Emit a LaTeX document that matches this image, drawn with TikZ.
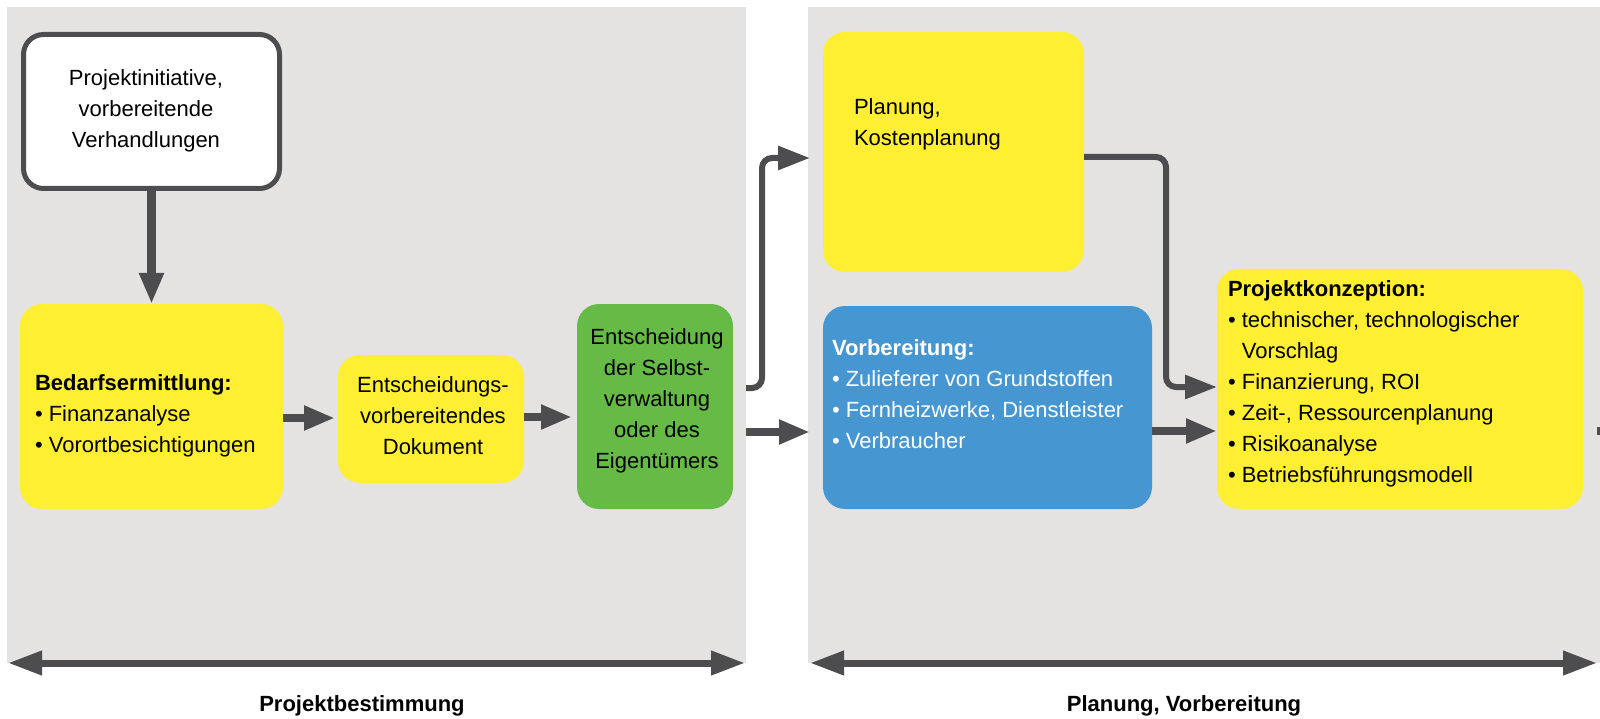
\documentclass[tikz,border=0pt]{standalone}
\usepackage{fontspec}
\setmainfont{Liberation Sans}
\usetikzlibrary{arrows.meta}
\definecolor{panelgray}{HTML}{E4E3E1}
\definecolor{boxyellow}{HTML}{FFEF33}
\definecolor{boxgreen}{HTML}{66BB47}
\definecolor{boxblue}{HTML}{4596D1}
\definecolor{darkgray}{HTML}{4D4D4F}
\tikzset{
  panel/.style={fill=panelgray, draw=none, inner sep=0pt, outer sep=0pt},
  box/.style={rounded corners=22pt, draw=none, inner sep=0pt, outer sep=0pt},
  txt/.style={inner sep=0pt, outer sep=0pt, font=\fontsize{22}{31}\selectfont},
  conn/.style={draw=darkgray, line width=8.5pt, -{Triangle[length=31pt,width=23pt]}},
  elbow/.style={draw=darkgray, line width=6pt, rounded corners=10pt, -{Triangle[length=32pt,width=23pt]}},
  biarrow/.style={draw=darkgray, line width=7pt, {Triangle[length=34pt,width=23pt]}-{Triangle[length=34pt,width=23pt]}},
}
\begin{document}
\begin{tikzpicture}[x=1pt,y=-1pt]
\useasboundingbox[fill=white] (0,0) rectangle (1600,719);
% panels
\node[panel, minimum width=739pt, minimum height=656pt] (leftpanel) at (376.5,335) {};
\node[panel, minimum width=792pt, minimum height=656pt] (rightpanel) at (1204,335) {};
% boxes
\node[box, draw=darkgray, line width=5pt, fill=white, rounded corners=20pt, minimum width=256pt, minimum height=154pt] (init) at (151.5,111.5) {};
\node[box, fill=boxyellow, minimum width=263pt, minimum height=205pt] (bedarf) at (151.5,406.5) {};
\node[box, fill=boxyellow, minimum width=186pt, minimum height=128pt] (entsch) at (431,419) {};
\node[box, fill=boxgreen, minimum width=156pt, minimum height=205pt] (green) at (655,406.5) {};
\node[box, fill=boxyellow, minimum width=261pt, minimum height=240pt] (planung) at (953.5,152) {};
\node[box, fill=boxblue, minimum width=329pt, minimum height=203pt] (vorb) at (987.5,407.5) {};
\node[box, fill=boxyellow, minimum width=366pt, minimum height=240pt] (konz) at (1400,389) {};
% texts
\node[txt, align=center] (inittext) at (146,111) {Projektinitiative,\\vorbereitende\\Verhandlungen};
\node[txt, align=left, anchor=west] (bedarftext) at (35,416) {\textbf{Bedarfsermittlung:}\\• Finanzanalyse\\• Vorortbesichtigungen};
\node[txt, align=center] (entschtext) at (433,416) {Entscheidungs-\\vorbereitendes\\Dokument};
\node[txt, align=center] (greentext) at (657,401) {Entscheidung\\der Selbst-\\verwaltung\\oder des\\Eigentümers};
\node[txt, align=left, anchor=west] (planungtext) at (854,124) {Planung,\\Kostenplanung};
\node[txt, align=left, anchor=west, text=white] (vorbtext) at (832,394) {\textbf{Vorbereitung:}\\• Zulieferer von Grundstoffen\\• Fernheizwerke, Dienstleister\\• Verbraucher};
\node[txt, align=left, anchor=west] (konztext) at (1228,384) {\textbf{Projektkonzeption:}\\• technischer, technologischer\\\hphantom{•~}Vorschlag\\• Finanzierung, ROI\\• Zeit-, Ressourcenplanung\\• Risikoanalyse\\• Betriebsführungsmodell};
\node[txt, font=\fontsize{22}{31}\selectfont\bfseries] (labelleft) at (362,706) {Projektbestimmung};
\node[txt, font=\fontsize{22}{31}\selectfont\bfseries] (labelright) at (1184,706) {Planung, Vorbereitung};
% coordinates
\coordinate (ge1) at (746,388);
\coordinate (ge2) at (762,388);
\coordinate (ge3) at (762,158);
\coordinate (ge4) at (810,158);
\coordinate (gv1) at (746,432);
\coordinate (gv2) at (810,432);
\coordinate (pe1) at (1084,157);
\coordinate (pe2) at (1166,157);
\coordinate (pe3) at (1166,387);
\coordinate (pe4) at (1217,387);
\coordinate (vk1) at (1152,431);
\coordinate (vk2) at (1217,431);
\coordinate (be1) at (283,418);
\coordinate (be2) at (335,418);
\coordinate (eg1) at (524,417);
\coordinate (eg2) at (572,417);
\coordinate (st1) at (1597,431);
\coordinate (st2) at (1600,431);
\coordinate (bl1) at (8,663);
\coordinate (bl2) at (745,663);
\coordinate (br1) at (810,663);
\coordinate (br2) at (1597,663);
% connectors
\draw[conn] (init.south) -- (bedarf.north);
\draw[conn] (be1) -- (be2);
\draw[conn] (eg1) -- (eg2);
\draw[conn] (gv1) -- (gv2);
\draw[elbow] (ge1) -- (ge2) -- (ge3) -- (ge4);
\draw[elbow] (pe1) -- (pe2) -- (pe3) -- (pe4);
\draw[conn] (vk1) -- (vk2);
\draw[draw=darkgray, line width=8pt] (st1) -- (st2);
\draw[biarrow] (bl1) -- (bl2);
\draw[biarrow] (br1) -- (br2);
\end{tikzpicture}
\end{document}
